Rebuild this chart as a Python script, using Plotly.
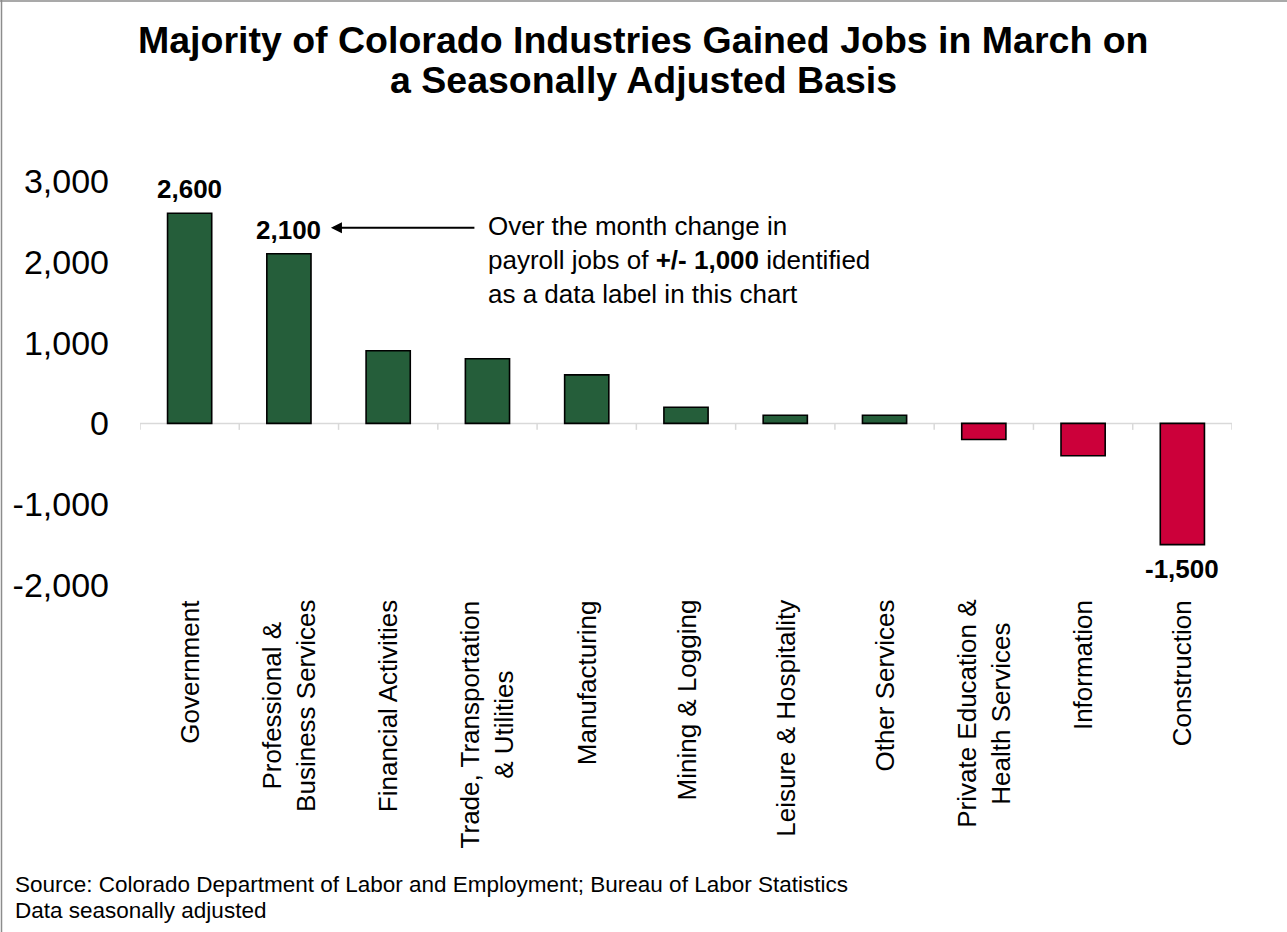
import plotly.graph_objects as go

# Over-the-month change in payroll jobs, March (seasonally adjusted)
categories = [
    "Government",
    "Professional &<br>Business Services",
    "Financial Activities",
    "Trade, Transportation<br>& Utilities",
    "Manufacturing",
    "Mining & Logging",
    "Leisure & Hospitality",
    "Other Services",
    "Private Education &<br>Health Services",
    "Information",
    "Construction",
]
job_change = [2600, 2100, 900, 800, 600, 200, 100, 100, -200, -400, -1500]
label_threshold = 1000
y_ticks = [-2000, -1000, 0, 1000, 2000, 3000]
y_tick_text = ["-2,000", "-1,000", "0", "1,000", "2,000", "3,000"]

W, H = 1287, 932
M_L, M_R, M_T, M_B = 140, 55, 181, 347
FONT = "Liberation Sans, Arial, sans-serif"
GREEN = "#255E3A"
RED = "#CC003A"


def px(x):
    return (x - M_L) / (W - M_L - M_R)


def py(y):
    return (H - M_B - y) / (H - M_T - M_B)


colors = [GREEN if v >= 0 else RED for v in job_change]

fig = go.Figure(
    go.Bar(
        x=list(range(len(categories))),
        y=job_change,
        marker=dict(color=colors, line=dict(color="black", width=1.6)),
        cliponaxis=False,
        width=0.445,
        hoverinfo="skip",
    )
)

# light zero axis with category divider ticks
shapes = [
    dict(type="line", xref="x", yref="y", x0=-0.5, x1=len(categories) - 0.5,
         y0=0, y1=0, line=dict(color="#D9D9D9", width=1.5), layer="below")
]
for i in range(len(categories) + 1):
    shapes.append(dict(type="line", xref="x", yref="y", x0=i - 0.5, x1=i - 0.5,
                       y0=0, y1=-80, line=dict(color="#D9D9D9", width=1.5),
                       layer="below"))
# outer frame (left and top edges)
shapes.append(dict(type="line", xref="paper", yref="paper", x0=px(1.5), x1=px(1.5),
                   y0=py(0), y1=py(H), line=dict(color="#8C8C8C", width=1.5)))
shapes.append(dict(type="line", xref="paper", yref="paper", x0=px(0), x1=px(W),
                   y0=py(1), y1=py(1), line=dict(color="#8C8C8C", width=1.5)))

annotations = []
# title
for text, yc in [("<b>Majority of Colorado Industries Gained Jobs in March on</b>", 40),
                 ("<b>a Seasonally Adjusted Basis</b>", 80)]:
    annotations.append(dict(xref="paper", yref="paper", x=px(643), y=py(yc),
                            xanchor="center", yanchor="middle", showarrow=False,
                            text=text,
                            font=dict(family=FONT, size=37.5, color="black")))
# value labels for changes of at least +/- 1,000
for i, v in enumerate(job_change):
    if abs(v) >= label_threshold:
        annotations.append(dict(xref="x", yref="y", x=i, y=v,
                                xanchor="center",
                                yanchor="bottom" if v >= 0 else "top",
                                yshift=7 if v >= 0 else -7,
                                showarrow=False, text=f"<b>{v:,}</b>",
                                font=dict(family=FONT, size=26, color="black")))
# category labels, rotated and top-aligned below the plot
for i, c in enumerate(categories):
    annotations.append(dict(xref="x", yref="paper", x=i, y=py(598),
                            xanchor="center", yanchor="top", textangle=-90,
                            align="center", showarrow=False, text=c,
                            font=dict(family=FONT, size=26, color="black")))
# callout arrow toward the 2,100 label
annotations.append(dict(xref="x", yref="y", x=1, y=2100, xshift=42, yshift=26,
                        ax=145, ay=0, text="", showarrow=True, arrowhead=2,
                        arrowsize=1.1, arrowwidth=2, arrowcolor="black",
                        standoff=0))
annotations.append(dict(xref="paper", yref="paper", x=px(486), y=py(260),
                        xanchor="left", yanchor="middle", align="left",
                        showarrow=False,
                        text="Over the month change in<br>payroll jobs of <b>+/- 1,000</b> identified<br>as a data label in this chart",
                        font=dict(family=FONT, size=26, color="black")))
# source note
for text, yc in [("Source: Colorado Department of Labor and Employment; Bureau of Labor Statistics", 884),
                 ("Data seasonally adjusted", 910)]:
    annotations.append(dict(xref="paper", yref="paper", x=px(13), y=py(yc),
                            xanchor="left", yanchor="middle", align="left",
                            showarrow=False, text=text,
                            font=dict(family=FONT, size=22.5, color="black")))

fig.update_layout(
    width=W, height=H,
    margin=dict(l=M_L, r=M_R, t=M_T, b=M_B),
    paper_bgcolor="white", plot_bgcolor="white",
    showlegend=False,
    bargap=0.555,
    font=dict(family=FONT, color="black"),
    shapes=shapes,
    annotations=annotations,
    xaxis=dict(range=[-0.5, len(categories) - 0.5], showticklabels=False,
               showgrid=False, zeroline=False, showline=False, ticks=""),
    yaxis=dict(range=[-2000, 3000], tickvals=y_ticks, ticktext=y_tick_text,
               showgrid=False, zeroline=False, showline=False, ticks="",
               ticklabelstandoff=30,
               tickfont=dict(family=FONT, size=34, color="black")),
)

fig.write_html("out.html")
